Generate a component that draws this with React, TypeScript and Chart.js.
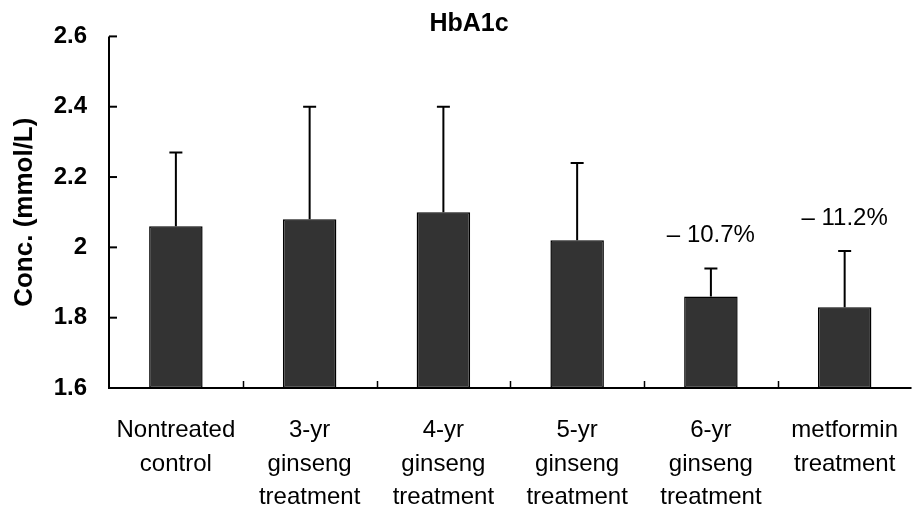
import React, { useEffect, useRef } from 'react';
import { Chart, registerables } from 'chart.js';

Chart.register(...registerables);

const categories: string[][] = [
  ['Nontreated', 'control'],
  ['3-yr', 'ginseng', 'treatment'],
  ['4-yr', 'ginseng', 'treatment'],
  ['5-yr', 'ginseng', 'treatment'],
  ['6-yr', 'ginseng', 'treatment'],
  ['metformin', 'treatment'],
];
const means = [2.06, 2.08, 2.10, 2.02, 1.86, 1.83];
const errors = [0.21, 0.32, 0.30, 0.22, 0.08, 0.16];
const annotations = ['', '', '', '', '\u2013 10.7%', '\u2013 11.2%'];
const yTickLabels = ['1.6', '1.8', '2', '2.2', '2.4', '2.6'];
const yMin = 1.6;
const yMax = 2.6;
const yStep = 0.2;
const chartTitle = 'HbA1c';
const yAxisTitle = 'Conc. (mmol/L)';

const FONT = "'Liberation Sans', Arial, sans-serif";

const overlayPlugin = {
  id: 'overlay',
  afterDatasetsDraw(chart: any) {
    const { ctx, chartArea, scales } = chart;
    const y = scales.y;
    const meta = chart.getDatasetMeta(0);
    ctx.save();

    // error bars
    ctx.strokeStyle = '#000';
    ctx.lineWidth = 2;
    meta.data.forEach((bar: any, i: number) => {
      const cx = bar.x;
      const yTop = y.getPixelForValue(means[i] + errors[i]);
      const yBar = y.getPixelForValue(means[i]);
      ctx.beginPath();
      ctx.moveTo(cx, yBar);
      ctx.lineTo(cx, yTop);
      ctx.moveTo(cx - 6.5, yTop);
      ctx.lineTo(cx + 6.5, yTop);
      ctx.stroke();
    });

    // axes lines
    ctx.lineWidth = 2;
    ctx.beginPath();
    ctx.moveTo(chartArea.left, chartArea.top);
    ctx.lineTo(chartArea.left, chartArea.bottom);
    ctx.lineTo(chartArea.right, chartArea.bottom);
    ctx.stroke();

    // inward y ticks
    y.ticks.forEach((t: any) => {
      const py = y.getPixelForValue(t.value);
      ctx.beginPath();
      ctx.moveTo(chartArea.left, py);
      ctx.lineTo(chartArea.left + 8, py);
      ctx.stroke();
    });

    // inward x ticks at category boundaries
    ctx.lineWidth = 1.5;
    const n = categories.length;
    const cw = (chartArea.right - chartArea.left) / n;
    for (let i = 1; i < n; i++) {
      const px = Math.round(chartArea.left + i * cw) + 0.5;
      ctx.beginPath();
      ctx.moveTo(px, chartArea.bottom);
      ctx.lineTo(px, chartArea.bottom - 7);
      ctx.stroke();
    }

    // annotations
    ctx.fillStyle = '#000';
    ctx.font = `24px ${FONT}`;
    ctx.textAlign = 'center';
    ctx.textBaseline = 'alphabetic';
    meta.data.forEach((bar: any, i: number) => {
      if (!annotations[i]) return;
      const yTop = y.getPixelForValue(means[i] + errors[i]);
      ctx.fillText(annotations[i], bar.x, yTop - 26);
    });

    // title
    ctx.font = `bold 25px ${FONT}`;
    ctx.textAlign = 'center';
    ctx.textBaseline = 'alphabetic';
    ctx.fillText(chartTitle, 469, 31);

    // y-axis title
    ctx.translate(25, (chartArea.top + chartArea.bottom) / 2);
    ctx.rotate(-Math.PI / 2);
    ctx.font = `bold 26px ${FONT}`;
    ctx.textBaseline = 'middle';
    ctx.fillText(yAxisTitle, 0, 0);

    ctx.restore();
  },
};

export default function App() {
  const ref = useRef<HTMLCanvasElement | null>(null);

  useEffect(() => {
    if (!ref.current) return;
    const chart = new Chart(ref.current, {
      type: 'bar',
      data: {
        labels: categories,
        datasets: [
          {
            data: means.map((m) => [yMin, m]) as any,
            backgroundColor: '#333333',
            borderColor: '#000',
            borderWidth: 1.5,
            borderSkipped: false,
            barPercentage: 0.4,
            categoryPercentage: 1.0,
          },
        ],
      },
      options: {
        responsive: false,
        animation: false,
        devicePixelRatio: 1,
        layout: { padding: { top: 35, left: 0, right: 0, bottom: 0 } },
        plugins: {
          legend: { display: false },
          title: { display: false },
          tooltip: { enabled: false },
        },
        scales: {
          x: {
            grid: { display: false, drawTicks: false },
            border: { display: false },
            ticks: {
              color: '#000',
              padding: 26,
              maxRotation: 0,
              autoSkip: false,
              font: { family: FONT, size: 24, lineHeight: 1.39 },
            },
            afterFit: (s: any) => {
              s.height = 120;
            },
          },
          y: {
            min: yMin,
            max: yMax,
            grid: { display: false, drawTicks: false },
            border: { display: false },
            ticks: {
              stepSize: yStep,
              color: '#000',
              padding: 22,
              font: { family: FONT, size: 24, weight: 'bold' },
              callback: (_v: any, i: number) => yTickLabels[i],
            },
            afterFit: (s: any) => {
              s.width = 109;
            },
          },
        },
      },
      plugins: [overlayPlugin],
    });
    return () => chart.destroy();
  }, []);

  return (
    <div
      style={{
        position: 'fixed',
        left: 0,
        top: 0,
        width: 918,
        height: 508,
        overflow: 'hidden',
        background: '#fff',
      }}
    >
      <canvas ref={ref} width={924} height={508} style={{ display: 'block', width: 924, height: 508 }} />
    </div>
  );
}
